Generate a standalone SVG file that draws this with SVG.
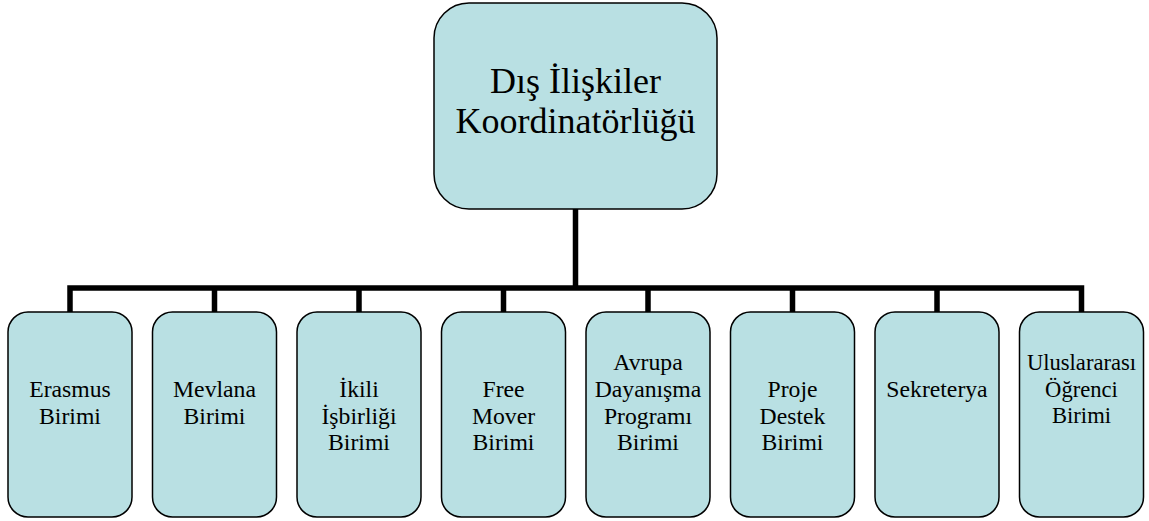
<svg xmlns="http://www.w3.org/2000/svg" width="1149" height="521" viewBox="0 0 1149 521">
<style>
.box{fill:#B9E0E3;stroke:#000;stroke-width:1.5}
text{font-family:'Liberation Serif','Times New Roman','DejaVu Serif',serif;fill:#000;text-anchor:middle}
.big{font-size:36px}
.sm{font-size:23.7px}
.xs{font-size:22.6px}
.con{fill:none;stroke:#000;stroke-width:5.5;stroke-linejoin:miter;stroke-linecap:butt}
</style>
<rect width="1149" height="521" fill="#fff"/>
<g id="connectors">
<path class="con" d="M575.5 209 V288"/>
<path class="con" d="M70 312 V288 H1081.5 V312"/>
<path class="con" d="M214.5 288 V312 M359 288 V312 M503.5 288 V312 M648 288 V312 M792.5 288 V312 M937 288 V312"/>
</g>
<g id="root">
<rect class="box" x="434" y="3" width="283" height="206" rx="35"/>
<text class="big" x="575.5" y="93">Dış İlişkiler</text>
<text class="big" x="575.5" y="133">Koordinatörlüğü</text>
</g>
<g id="n1">
<rect class="box" x="8" y="312" width="124" height="205" rx="20"/>
<text class="sm" x="70" y="397">Erasmus</text>
<text class="sm" x="70" y="424">Birimi</text>
</g>
<g id="n2">
<rect class="box" x="152.5" y="312" width="124" height="205" rx="20"/>
<text class="sm" x="214.5" y="397">Mevlana</text>
<text class="sm" x="214.5" y="424">Birimi</text>
</g>
<g id="n3">
<rect class="box" x="297" y="312" width="124" height="205" rx="20"/>
<text class="sm" x="359" y="397">İkili</text>
<text class="sm" x="359" y="423.5">İşbirliği</text>
<text class="sm" x="359" y="450">Birimi</text>
</g>
<g id="n4">
<rect class="box" x="441.5" y="312" width="124" height="205" rx="20"/>
<text class="sm" x="503.5" y="397">Free</text>
<text class="sm" x="503.5" y="423.5">Mover</text>
<text class="sm" x="503.5" y="450">Birimi</text>
</g>
<g id="n5">
<rect class="box" x="586" y="312" width="124" height="205" rx="20"/>
<text class="sm" x="648" y="370">Avrupa</text>
<text class="sm" x="648" y="397">Dayanışma</text>
<text class="sm" x="648" y="423.5">Programı</text>
<text class="sm" x="648" y="450">Birimi</text>
</g>
<g id="n6">
<rect class="box" x="730.5" y="312" width="124" height="205" rx="20"/>
<text class="sm" x="792.5" y="397">Proje</text>
<text class="sm" x="792.5" y="423.5">Destek</text>
<text class="sm" x="792.5" y="450">Birimi</text>
</g>
<g id="n7">
<rect class="box" x="875" y="312" width="124" height="205" rx="20"/>
<text class="sm" x="937" y="397">Sekreterya</text>
</g>
<g id="n8">
<rect class="box" x="1019.5" y="312" width="124" height="205" rx="20"/>
<text class="xs" x="1081.5" y="370">Uluslararası</text>
<text class="xs" x="1081.5" y="396.5">Öğrenci</text>
<text class="xs" x="1081.5" y="423">Birimi</text>
</g>
</svg>
